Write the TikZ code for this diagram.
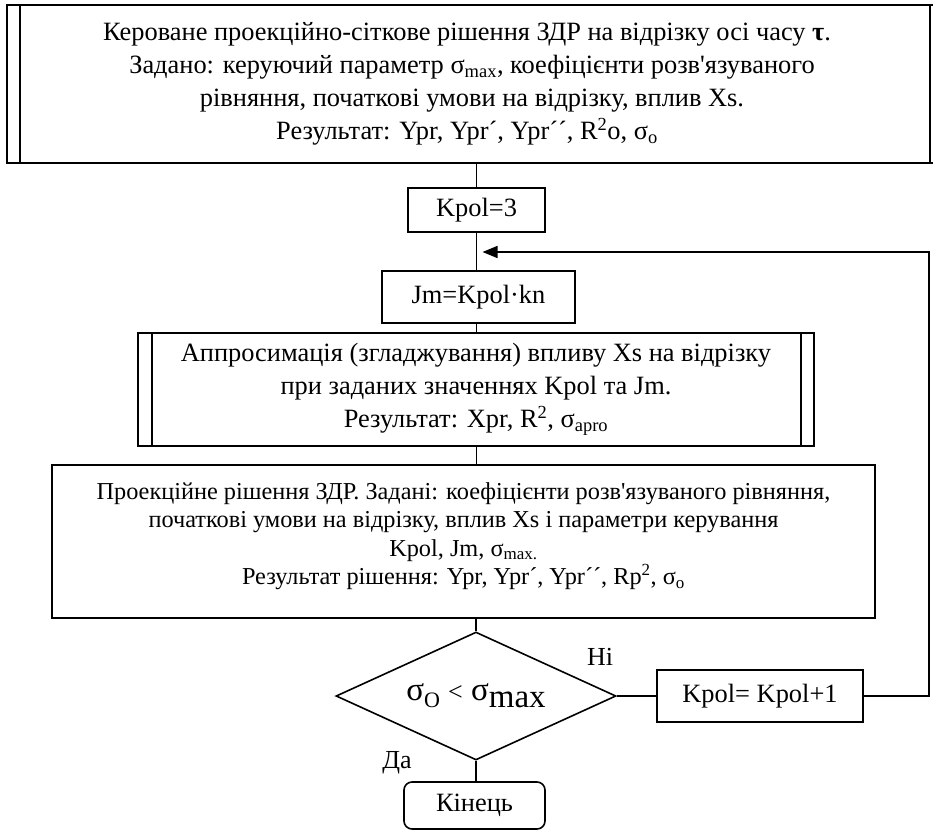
\documentclass[tikz,border=0pt]{standalone}
\usepackage{fontspec}
\setmainfont{Liberation Serif}
\usetikzlibrary{shapes.geometric, arrows.meta}

\tikzset{
  frame/.style={line width=1.6pt},
  box/.style={draw, frame, inner sep=0pt, align=center,
              font=\fontsize{26.4}{33}\selectfont},
  conn/.style={draw, line width=1.4pt},
  lbl/.style={inner sep=0pt, font=\fontsize{26}{26}\selectfont},
}

\begin{document}
\begin{tikzpicture}[x=1pt, y=-1pt]
\path[use as bounding box] (0,0) rectangle (933,832);
\clip (0,0) rectangle (933,832);

% task statement (predefined process, runs past the right edge)
\node[box, minimum width=930pt, minimum height=158pt] (task) at (472,84)
  {Кероване проекційно-сіткове рішення ЗДР на відрізку осі часу {\bfseries τ}.\hspace*{10pt}\\
   Задано: керуючий параметр σ\textsubscript{max}, коефіцієнти розв\textquotesingle язуваного\hspace*{10pt}\\
   рівняння, початкові умови на відрізку, вплив Xs.\hspace*{10pt}\\
   Результат: Ypr, Ypr´, Ypr´´, R\textsuperscript{2}o, σ\textsubscript{o}\hspace*{10pt}};
\draw[frame] ([xshift=14pt]task.north west) -- ([xshift=14pt]task.south west);
\draw[frame] ([xshift=-8pt]task.north east) -- ([xshift=-8pt]task.south east);

% initial polynomial degree
\node[box, minimum width=137pt, minimum height=44pt] (kpol) at (476.5,210) {Kpol=3};

% number of grid nodes
\node[box, minimum width=193pt, minimum height=52pt] (jm) at (478.5,297) {Jm=Kpol·kn};

% smoothing subroutine (predefined process)
\node[box, minimum width=676pt, minimum height=113pt] (approx) at (476,389.5)
  {Аппросимація (згладжування) впливу Xs на відрізку\\
   при заданих значеннях Kpol та Jm.\\
   Результат: Xpr, R\textsuperscript{2}, σ\textsubscript{apro}};
\draw[frame] ([xshift=15pt]approx.north west) -- ([xshift=15pt]approx.south west);
\draw[frame] ([xshift=-14pt]approx.north east) -- ([xshift=-14pt]approx.south east);

% projection solution
\node[box, minimum width=823pt, minimum height=153pt] (proj) at (463.5,541.5) {};
\node[inner sep=0pt, align=center, anchor=north,
      font=\fontsize{24.3}{28.5}\selectfont] (projtext) at (463.5,482)
  {Проекційне рішення ЗДР. Задані: коефіцієнти розв\textquotesingle язуваного рівняння,\\
   початкові умови на відрізку, вплив Xs і параметри керування\\
   Kpol, Jm, σ\textsubscript{max.}\\
   Результат рішення: Ypr, Ypr´, Ypr´´, Rp\textsuperscript{2}, σ\textsubscript{o}};

% accuracy check
\node[diamond, draw, frame, aspect=2.19, minimum width=280pt, minimum height=128pt,
      inner sep=0pt, font=\fontsize{33}{33}\selectfont] (test) at (476,696)
  {σ\raisebox{-7pt}{\fontsize{22}{22}\selectfont O} {\fontsize{26}{26}\selectfont <} σ\raisebox{-7pt}{max}};

% raise the degree
\node[box, minimum width=206pt, minimum height=52pt] (inc) at (760,696) {Kpol= Kpol+1};

% end
\node[box, rounded corners=8pt, minimum width=141pt, minimum height=47pt] (stop) at (474.5,805.5) {Кінець};

% branch labels
\node[lbl] (no) at (600,657) {Ні};
\node[lbl] (yes) at (397,763) {Да};

% connectors
\coordinate (merge) at (476.5,252);
\coordinate (loopturn) at (929,252);
\draw[conn] (kpol.north |- task.south) -- (kpol.north);
\draw[conn] (kpol.south) -- (kpol.south |- jm.north);
\draw[conn] (kpol.south |- jm.south) -- (kpol.south |- approx.north);
\draw[conn] (kpol.south |- approx.south) -- (kpol.south |- proj.north);
\draw[conn] (test.north |- proj.south) -- (test.north);
\draw[conn] (test.east) -- (inc.west);
\draw[conn] (test.south) -- (test.south |- stop.north);
\draw[conn, -{Triangle[length=15pt, width=12pt]}] (inc.east) -| (loopturn) -- ([xshift=6pt]merge);
\end{tikzpicture}
\end{document}
